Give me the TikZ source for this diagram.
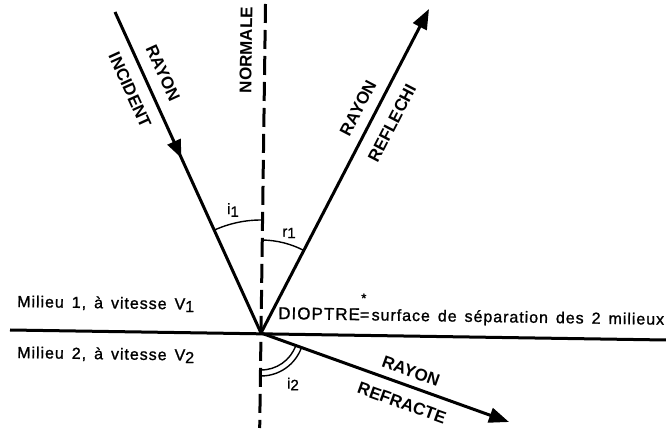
\documentclass[tikz,border=0pt]{standalone}
\usepackage{fontspec}
\setmainfont{Liberation Sans}
\newfontfamily\spacedfont[LetterSpace=6,FakeBold=1.2]{Liberation Sans}
\newfontfamily\labelfont[FakeBold=1]{Liberation Sans}
\usetikzlibrary{arrows.meta,decorations.markings}
\newcommand{\milieufont}{\spacedfont\fontsize{16}{16}\selectfont\spaceskip=0.5em\relax}
\begin{document}
\begin{tikzpicture}[x=1pt,y=1pt,
  ray/.style={line width=3pt},
  bigtip/.style={-{Triangle[length=20pt,width=15pt]}},
  midtip/.style={postaction={decorate},decoration={markings,
      mark=at position 0.455 with {\arrow{Triangle[length=18pt,width=14pt]}}}},
  anglearc/.style={line width=1.4pt},
  normalline/.style={line width=3pt, dash pattern=on 19pt off 7pt},
  raylabel/.style={font=\fontsize{17}{17}\bfseries\selectfont, inner sep=0pt},
  anglelabel/.style={font=\labelfont\fontsize{15}{15}\selectfont, inner sep=0pt},
  milieu/.style={font=\milieufont, inner sep=0pt, anchor=base west, rotate=-0.85},
]
\useasboundingbox (0,0) rectangle (666,428);

% key points
\coordinate (O) at (261,95);
\coordinate (lineL) at (10,98);
\coordinate (lineR) at (666,88);
\coordinate (normTop) at (265.5,424);
\coordinate (normBot) at (259.7,0);
\coordinate (incStart) at (115,416);
\coordinate (refEnd) at (429,419);
\coordinate (fracEnd) at (509,6);

% dioptre and normal
\draw[ray] (lineL) -- (lineR);
\draw[normalline] (normTop) -- (normBot);

% rays
\draw[ray,midtip] (incStart) -- (O);
\draw[ray,bigtip] (O) -- (refEnd);
\draw[ray,bigtip] (O) -- (fracEnd);

% angle arcs
\draw[anglearc] ([shift={(89.2:113)}]O) arc[start angle=89.2, end angle=114.46, radius=113];
\draw[anglearc] ([shift={(62.6:93)}]O) arc[start angle=62.6, end angle=89.2, radius=93];
\draw[anglearc] ([shift={(-90.8:37)}]O) arc[start angle=-90.8, end angle=-19.74, radius=37];
\draw[anglearc] ([shift={(-90.8:43)}]O) arc[start angle=-90.8, end angle=-19.74, radius=43];

% angle labels
\node[anglelabel] (li1) at (233,218) {i\raisebox{-0.35ex}{1}};
\node[anglelabel] (lr1) at (289,195) {r\raisebox{-0.2ex}{1}};
\node[anglelabel] (li2) at (293,44) {i\raisebox{-0.2ex}{2}};

% ray labels
\node[raylabel, rotate=89.2] (lnorm) at (246,378) {NORMALE};
\node[raylabel, rotate=-65.54] (lray1) at (163,355) {RAYON};
\node[raylabel, rotate=-65.54] (linc) at (130,338) {INCIDENT};
\node[raylabel, rotate=62.6] (lray2) at (358,320) {RAYON};
\node[raylabel, rotate=62.6] (lrefl) at (392,305) {REFLECHI};
\node[raylabel, rotate=-19.74] (lray3) at (411,57) {RAYON};
\node[raylabel, rotate=-19.74] (lrefr) at (402,25) {REFRACTE};

% media and dioptre labels
\node[milieu] (m1) at (17,121) {Milieu 1, à vitesse V\raisebox{-0.3ex}{1}};
\node[milieu] (m2) at (17,70) {Milieu 2, à vitesse V\raisebox{-0.3ex}{2}};
\node[milieu] (dio) at (278,109) {{\fontsize{17}{17}\selectfont DIOPTRE}=\llap{\raisebox{1.1em}{\fontsize{13}{13}\selectfont *}\kern0.2em}\kern0.15em surface de séparation des 2 milieux};
\end{tikzpicture}
\end{document}
